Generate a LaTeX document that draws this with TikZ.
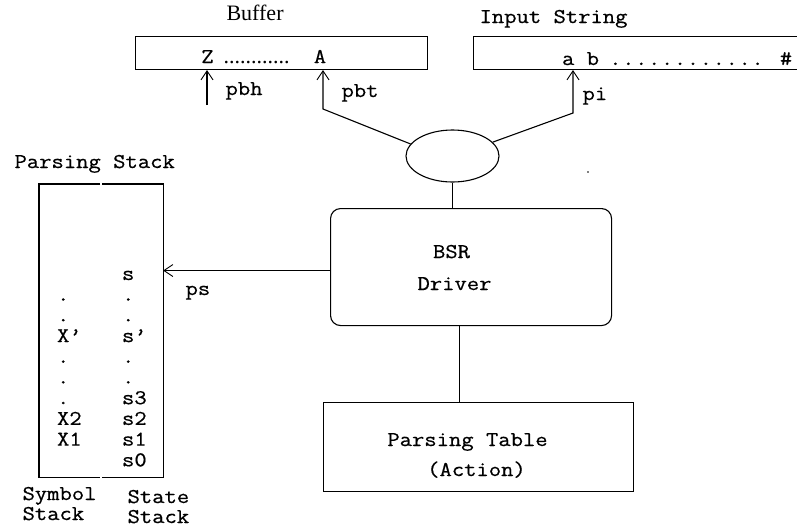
\documentclass[tikz,border=0pt]{standalone}
\usepackage{fontspec}
\setmonofont[FakeStretch=1.14,FakeBold=0.6]{Latin Modern Mono}
\newfontfamily\timesf{Liberation Serif}
\usetikzlibrary{arrows.meta,shapes.geometric}
\begin{document}
\begin{tikzpicture}[x=1pt,y=-1pt,line width=1.1pt,
  box/.style={draw,line width=1.1pt,inner sep=0pt,anchor=north west},
  arr/.style={-{Straight Barb[length=9pt,width=12pt,line width=0.9pt]}},
  mono/.style={font=\ttfamily\fontsize{21}{21}\selectfont,inner sep=0pt,anchor=base west},
  serif/.style={font=\timesf\fontsize{22}{22}\selectfont,inner sep=0pt,anchor=base west}]
\useasboundingbox (0,0) rectangle (797,528);
\clip (0,0) rectangle (797,528);
% boxes
\node[box,minimum width=292pt,minimum height=33pt] (buf) at (135,36) {};
\node[box,minimum width=340pt,minimum height=33pt] (inp) at (473,36) {};
\node[draw,ellipse,minimum width=93pt,minimum height=52pt,inner sep=0pt] (ell) at (452.5,156) {};
\node[box,rounded corners=10pt,minimum width=281pt,minimum height=117pt] (bsr) at (330,208) {};
\node[box,minimum width=310pt,minimum height=89pt] (tab) at (323,402) {};
\node[inner sep=0pt,minimum width=123pt,minimum height=292pt,anchor=north west] (stk) at (39,184) {};
\draw ([xshift=-1pt]stk.north) -- (stk.north west) -- (stk.south west) -- ([xshift=-1pt]stk.south);
\draw ([xshift=1pt]stk.north) -- (stk.north east) -- (stk.south east) -- ([xshift=1pt]stk.south);
% labels
\node[serif] (buflab) at (226,20) {Buffer};
\node[mono] (inlab) at (479,23) {Input String};
\node[mono,anchor=base] (zch) at (207.5,63) {Z};
\node[serif,anchor=base] (bdots) at (256.5,63) {............};
\node[mono,anchor=base] (ach) at (320,63) {A};
\node[mono] (abch) at (561.5,65) {a b};
\node[mono] (idots) at (608.7,65) {\foreach \k in {1,...,12}{.\kern0.6pt}};
\node[mono,anchor=base] (hash) at (786,65) {\#};
\node[mono] (pbhlab) at (225,95) {pbh};
\node[mono] (pbtlab) at (341,97) {pbt};
\node[mono] (pilab) at (582,100) {pi};
\node[mono] (pslab) at (185,295) {ps};
\node[mono] (stlab) at (14,168) {Parsing Stack};
\node[mono] (symlab) at (22,500) {Symbol};
\node[mono] (symlab2) at (22,520) {Stack};
\node[mono] (statlab) at (127,503) {State};
\node[mono] (statlab2) at (127,523) {Stack};
\node[mono,anchor=base] (bsrlab) at (451.5,258) {BSR};
\node[mono,anchor=base] (drvlab) at (454.5,290) {Driver};
\node[mono,anchor=base] (tablab) at (467.5,446) {Parsing Table};
\node[mono,anchor=base] (actlab) at (476.5,476) {(Action)};
% stack contents
\node[mono] (sy2) at (56.5,300.7) {.};
\node[mono] (sy3) at (56.5,321.4) {.};
\node[mono] (sy4) at (56.5,342.1) {X’};
\node[mono] (sy5) at (56.5,362.8) {.};
\node[mono] (sy6) at (56.5,383.5) {.};
\node[mono] (sy7) at (56.5,404.2) {.};
\node[mono] (sy8) at (56.5,424.9) {X2};
\node[mono] (sy9) at (56.5,445.6) {X1};
\node[mono] (st1) at (121.5,280) {s};
\node[mono] (st2) at (121.5,300.7) {.};
\node[mono] (st3) at (121.5,321.4) {.};
\node[mono] (st4) at (121.5,342.1) {s’};
\node[mono] (st5) at (121.5,362.8) {.};
\node[mono] (st6) at (121.5,383.5) {.};
\node[mono] (st7) at (121.5,404.2) {s3};
\node[mono] (st8) at (121.5,424.9) {s2};
\node[mono] (st9) at (121.5,445.6) {s1};
\node[mono] (st10) at (121.5,466.3) {s0};
% connectors
\coordinate (pbhfoot) at (207,105);
\draw[arr] (pbhfoot) -- (pbhfoot |- buf.south);
\coordinate (pbtbend) at (323,109);
\draw[arr] (ell.164) -- (pbtbend) -- (pbtbend |- buf.south);
\coordinate (pibend) at (573,113);
\draw[arr] (ell.19) -- (pibend) -- (pibend |- inp.south);
\draw (ell.south) -- (ell.south |- bsr.north);
\coordinate (psfrom) at ([yshift=-3.5pt]bsr.west);
\draw[arr] (psfrom) -- (psfrom -| stk.east);
\coordinate (tabfrom) at ([xshift=-11.5pt]bsr.south);
\draw (tabfrom) -- (tabfrom |- tab.north);
\fill (588,172) circle (0.8pt);
\end{tikzpicture}
\end{document}
